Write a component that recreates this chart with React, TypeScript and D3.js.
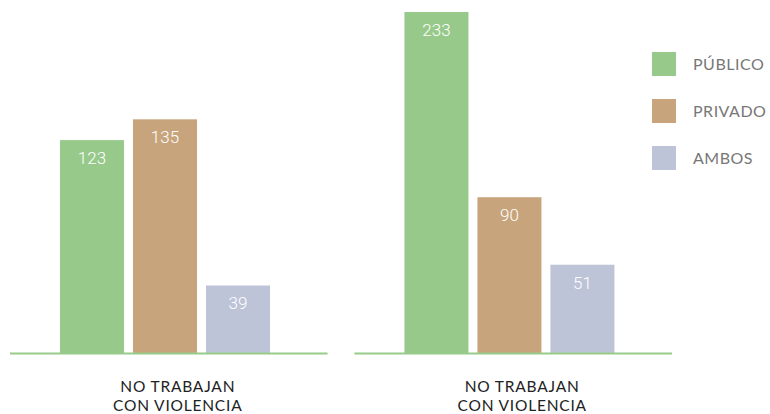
import React from "react";
import * as d3 from "d3";

const groups = ["NO TRABAJAN|CON VIOLENCIA", "NO TRABAJAN|CON VIOLENCIA"];
const seriesNames = ["PÚBLICO", "PRIVADO", "AMBOS"];
const publico = [123, 233];
const privado = [135, 90];
const ambos = [39, 51];
const seriesValues = [publico, privado, ambos];
const colors = ["#97C98A", "#C8A47C", "#BEC4D8"];

const W = 770;
const H = 414;
const baseY = 353;
const topY = 12;

export default function App() {
  const x0 = d3.scaleBand<number>().domain(groups.map((_, i) => i)).range([10, 672]).paddingInner(0.078).paddingOuter(0);
  const x1 = d3.scaleBand<string>().domain(seriesNames).range([50, 260]).paddingInner(0.123);
  const y = d3.scaleLinear().domain([0, 197]).range([baseY, topY]).clamp(true);
  const font = "Lato, 'Open Sans', sans-serif";

  return (
    <svg width={W} height={H} style={{ position: "absolute", left: 0, top: 0 }}>
      {groups.map((g, gi) => {
        const gx = x0(gi)!;
        return (
          <g key={gi}>
            {seriesNames.map((s, si) => {
              const v = seriesValues[si][gi];
              const bx = gx + x1(s)!;
              const by = y(v);
              return (
                <g key={s}>
                  <rect x={bx} y={by} width={x1.bandwidth()} height={baseY - by} fill={colors[si]} />
                  <text x={bx + x1.bandwidth() / 2} y={by + 24} textAnchor="middle" fill="#fff" fontFamily="Roboto, sans-serif" fontSize={17} fontWeight={300}>
                    {v}
                  </text>
                </g>
              );
            })}
            <line x1={gx} x2={gx + x0.bandwidth()} y1={baseY + 0.5} y2={baseY + 0.5} stroke="#97CB8A" strokeWidth={2} />
            {g.split("|").map((line, li) => (
              <text key={li} x={gx + x0.bandwidth() / 2 + 9} y={392 + li * 19} textAnchor="middle" fill="#222" fontFamily={font} fontSize={15.5} letterSpacing={0.8}>
                {line}
              </text>
            ))}
          </g>
        );
      })}
      {seriesNames.map((s, si) => (
        <g key={s} transform={`translate(652, ${52 + si * 47})`}>
          <rect width={24} height={24} fill={colors[si]} />
          <text x={41} y={18} fill="#777" fontFamily={font} fontSize={16} letterSpacing={0.5}>
            {s}
          </text>
        </g>
      ))}
    </svg>
  );
}
